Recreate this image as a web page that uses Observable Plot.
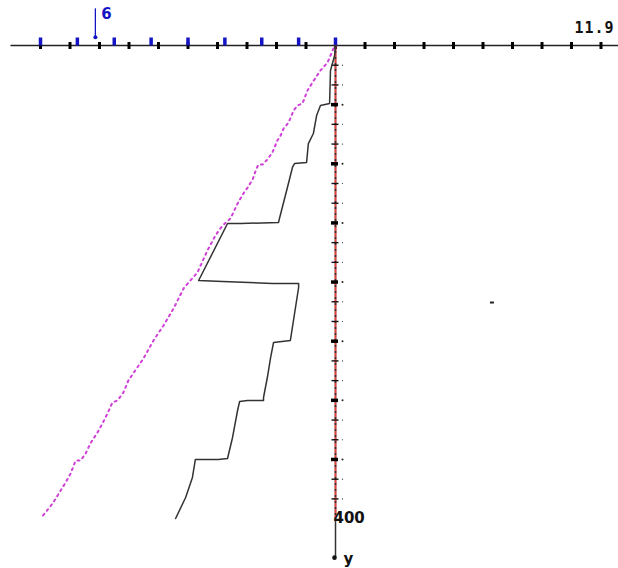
<!DOCTYPE html>
<html><head><meta charset="utf-8">
<script src="https://cdn.jsdelivr.net/npm/d3@7"></script>
<script src="https://cdn.jsdelivr.net/npm/@observablehq/plot@0.6"></script>
<style>body{margin:0;background:#fff;overflow:hidden}</style>
</head><body><div id="chart"></div>
<script>
// Black profile (x, depth y)
const blackX = [0, -0.03, -0.17, -0.20, -0.51, -0.64, -0.75, -0.92, -0.98, -1.39, -1.46, -1.63, -1.90, -1.93, -3.22, -3.66, -4.64, -3.83, -2.14, -1.25, -1.25, -1.53, -2.10, -2.20, -2.31, -2.44, -2.44, -2.98, -3.25, -3.32, -3.49, -3.66, -3.97, -4.75, -4.85, -5.08, -5.42];
const blackY = [0, 8.5, 21.1, 49.0, 50.7, 59.2, 74.4, 82.9, 98.9, 99.8, 103.1, 120.1, 146.3, 149.6, 150.5, 150.5, 198.7, 199.5, 201.2, 201.2, 204.6, 249.4, 251.1, 263.8, 280.7, 297.6, 300.1, 300.1, 301.0, 308.6, 331.4, 349.2, 350.0, 350.0, 365.2, 382.1, 399.9];
// Magenta dotted profile
const magentaX = [-0.07, -0.27, -0.51, -0.78, -0.95, -1.12, -1.29, -1.42, -1.59, -1.76, -1.86, -1.97, -2.14, -2.31, -2.47, -2.61, -2.68, -2.81, -2.98, -3.12, -3.32, -3.56, -3.83, -4.07, -4.34, -4.68, -4.98, -5.15, -5.49, -5.83, -6.17, -6.51, -7.02, -7.19, -7.39, -7.56, -7.73, -7.90, -8.07, -8.31, -8.47, -8.64, -8.81, -8.98, -9.15, -9.42, -9.59, -9.95];
const magentaY = [2.5, 14.4, 21.1, 31.3, 38.0, 49.0, 50.7, 55.0, 65.1, 70.2, 76.1, 80.3, 90.5, 96.4, 100.6, 100.6, 104.0, 113.3, 120.1, 125.1, 133.6, 146.3, 152.2, 160.6, 173.3, 191.9, 200.4, 205.4, 222.4, 236.7, 249.4, 264.6, 283.2, 293.4, 300.1, 301.8, 311.1, 319.6, 327.2, 336.5, 345.0, 350.9, 350.9, 361.9, 369.5, 380.5, 387.2, 398.5];
// Axes / ticks
const xTicksBlack = [-10, -9, -8, -7, -6, -5, -4, -3, -2, -1, 0, 1, 2, 3, 4, 5, 6, 7, 8, 9];
const xTicksBlue = [-10, -8.75, -7.5, -6.25, -5, -3.75, -2.5, -1.25, 0];
const yTicksMinor = [16.67, 33.33, 66.67, 83.33, 116.67, 133.33, 166.67, 183.33, 216.67, 233.33, 266.67, 283.33, 316.67, 333.33, 366.67, 383.33];
const yTicksMajor = [50, 100, 150, 200, 250, 300, 350];
const xAxisStart = -11.0, xAxisEnd = 9.7;
const yRedEnd = 400, yAxisEnd = 433;
const markerX = -8.14, markerTop = -31, markerBottom = -7, markerLabel = "6";
const topLabel = "11.9", topLabelX = 8.1, topLabelY = -15;
const depthLabel = "400", depthLabelY = 400;
const axisName = "y";
const strayX = [5.32], strayY = [217.3];

const black = blackX.map((x, i) => ({x, y: blackY[i]}));
const magenta = magentaX.map((x, i) => ({x, y: magentaY[i]}));
const stray = strayX.map((x, i) => ({x, y: strayY[i]}));
const blue = "#1414c4";

const chart = Plot.plot({
  width: 618, height: 568, margin: 0,
  style: {background: "#fff", overflow: "visible"},
  x: {domain: [-335 / 29.5, 283 / 29.5], range: [0, 618], axis: null},
  y: {domain: [-45 / 1.1828, 523 / 1.1828], range: [0, 568], axis: null},
  marks: [
    Plot.ruleY([0], {x1: xAxisStart, x2: xAxisEnd, stroke: "#222", strokeWidth: 1.6}),
    Plot.ruleX(xTicksBlack, {x: d => d, y1: 0, y2: 0, insetTop: -3, insetBottom: -4, stroke: "#000", strokeWidth: 3}),
    Plot.ruleX(xTicksBlue, {x: d => d, y1: 0, y2: 0, insetTop: -7.5, insetBottom: -0.5, stroke: blue, strokeWidth: 3.5}),
    Plot.ruleX([0], {y1: 0, y2: yAxisEnd, stroke: "#333", strokeWidth: 1.5}),
    Plot.ruleX([0], {y1: 0, y2: yRedEnd, stroke: "#e0403c", strokeWidth: 1.8}),
    Plot.ruleX([0], {y1: 0, y2: yRedEnd, stroke: "#333", strokeWidth: 1.5, strokeDasharray: "2,4"}),
    Plot.ruleY(yTicksMinor, {y: d => d, x1: 0, x2: 0, insetLeft: -3.5, insetRight: -3.5, stroke: "#111", strokeWidth: 1.4}),
    Plot.ruleY(yTicksMajor, {y: d => d, x1: 0, x2: 0, insetLeft: -4, insetRight: -3, stroke: "#000", strokeWidth: 3.5}),
    Plot.dot(yTicksMinor, {x: 0, y: d => d, dx: 7, r: 0.6, fill: "#333"}),
    Plot.dot(yTicksMajor, {x: 0, y: d => d, dx: 7, r: 1, fill: "#222"}),
    Plot.dot([yAxisEnd], {x: 0, y: d => d, dx: -1, r: 2.3, fill: "#111"}),
    Plot.line(magenta, {x: "x", y: "y", stroke: "#d040d8", strokeWidth: 2, strokeDasharray: "2,4"}),
    Plot.line(black, {x: "x", y: "y", stroke: "#333", strokeWidth: 1.5}),
    Plot.ruleY(stray, {x1: "x", x2: "x", y: "y", insetLeft: -2, insetRight: -2, stroke: "#222", strokeWidth: 2}),
    Plot.ruleX([markerX], {y1: markerTop, y2: markerBottom, stroke: blue, strokeWidth: 1.3}),
    Plot.dot([markerX], {x: d => d, y: markerBottom, r: 2, fill: blue}),
    Plot.text([markerLabel], {x: markerX, y: markerTop, dx: 6, dy: 5, text: d => d, textAnchor: "start", fill: blue, fontSize: 15, fontWeight: "bold", fontFamily: "DejaVu Sans"}),
    Plot.text([topLabel], {x: topLabelX, y: topLabelY, text: d => d, textAnchor: "start", fill: "#111", fontSize: 15, fontWeight: "bold", fontFamily: "DejaVu Sans Mono", className: "toplabel"}),
    Plot.text([depthLabel], {x: 0, y: depthLabelY, dx: -2, text: d => d, textAnchor: "start", fill: "#111", fontSize: 15, fontWeight: "bold", fontFamily: "DejaVu Sans"}),
    Plot.text([axisName], {x: 0, y: yAxisEnd, dx: 8, dy: 2, text: d => d, textAnchor: "start", fill: "#111", fontSize: 15, fontWeight: "bold", fontFamily: "DejaVu Sans"})
  ]
});
d3.select(chart).selectAll(".toplabel text").attr("letter-spacing", "1px");
document.getElementById("chart").append(chart);
</script>
</body></html>
